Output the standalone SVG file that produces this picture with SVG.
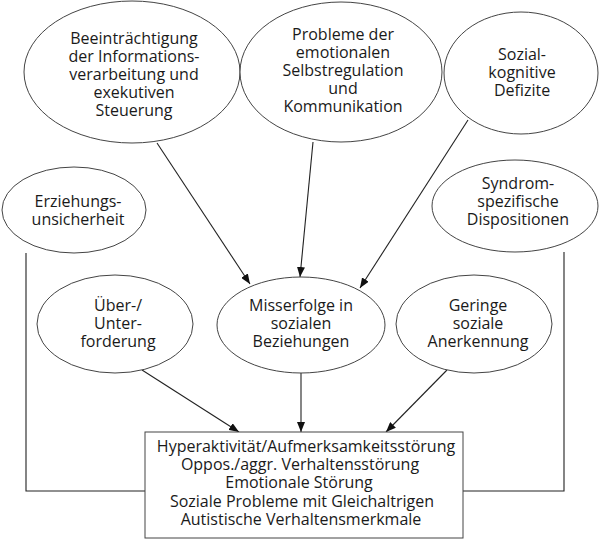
<svg xmlns="http://www.w3.org/2000/svg" width="600" height="540" viewBox="0 0 600 540">
<style>
.n ellipse,.n rect{fill:#fff;stroke:#444;stroke-width:1}
text{font-family:"Open Sans","Noto Sans","Liberation Sans",sans-serif;font-size:16px;fill:#1a1a1a;text-anchor:middle}
.c line,.c polyline{stroke:#222;stroke-width:1.1;fill:none}
</style>
<defs>
<marker id="ah" viewBox="0 0 10 8" refX="10" refY="4" markerWidth="10" markerHeight="8" markerUnits="userSpaceOnUse" orient="auto">
<path d="M0,0 L10,4 L0,8 z" fill="#111"/>
</marker>
</defs>
<rect width="600" height="540" fill="#fff"/>
<g class="c">
<line x1="157" y1="143" x2="250" y2="284" marker-end="url(#ah)"/>
<line x1="313" y1="142" x2="300" y2="277" marker-end="url(#ah)"/>
<line x1="468" y1="120" x2="360" y2="288" marker-end="url(#ah)"/>
<line x1="142" y1="370" x2="239" y2="432" marker-end="url(#ah)"/>
<line x1="301" y1="372" x2="301" y2="432" marker-end="url(#ah)"/>
<line x1="447" y1="370" x2="386" y2="432" marker-end="url(#ah)"/>
<polyline points="26,253 26,491 145,491"/>
<polyline points="564,252 564,491 463,491"/>
</g>
<g id="n1" class="n"><ellipse cx="132" cy="72" rx="108" ry="71"/>
<text x="134" y="44">Beeinträchtigung</text><text x="134" y="62">der Informations-</text><text x="134" y="80">verarbeitung und</text><text x="134" y="98">exekutiven</text><text x="134" y="116">Steuerung</text></g>
<g id="n2" class="n"><ellipse cx="341" cy="72" rx="101" ry="70"/>
<text x="343" y="40">Probleme der</text><text x="343" y="58">emotionalen</text><text x="343" y="76">Selbstregulation</text><text x="343" y="94">und</text><text x="343" y="112">Kommunikation</text></g>
<g id="n3" class="n"><ellipse cx="521" cy="73" rx="77" ry="61"/>
<text x="522" y="60">Sozial-</text><text x="522" y="78">kognitive</text><text x="522" y="96">Defizite</text></g>
<g id="n4" class="n"><ellipse cx="74" cy="210" rx="72" ry="43"/>
<text x="78" y="207">Erziehungs-</text><text x="78" y="225">unsicherheit</text></g>
<g id="n5" class="n"><ellipse cx="515" cy="206" rx="83" ry="46"/>
<text x="518" y="189">Syndrom-</text><text x="518" y="207">spezifische</text><text x="518" y="225">Dispositionen</text></g>
<g id="n6" class="n"><ellipse cx="115" cy="324" rx="78" ry="49"/>
<text x="118" y="311">Über-/</text><text x="118" y="329">Unter-</text><text x="118" y="347">forderung</text></g>
<g id="n7" class="n"><ellipse cx="301" cy="325" rx="84" ry="48"/>
<text x="301" y="311">Misserfolge in</text><text x="301" y="329">sozialen</text><text x="301" y="347">Beziehungen</text></g>
<g id="n8" class="n"><ellipse cx="474" cy="324" rx="78" ry="49"/>
<text x="478" y="311">Geringe</text><text x="478" y="329">soziale</text><text x="478" y="347">Anerkennung</text></g>
<g id="n9" class="n"><rect x="145" y="432" width="318" height="106"/>
<text x="306" y="452">Hyperaktivität/Aufmerksamkeitsstörung</text>
<text x="300" y="470">Oppos./aggr. Verhaltensstörung</text>
<text x="299" y="488">Emotionale Störung</text>
<text x="302" y="507">Soziale Probleme mit Gleichaltrigen</text>
<text x="301" y="525">Autistische Verhaltensmerkmale</text></g>
</svg>
